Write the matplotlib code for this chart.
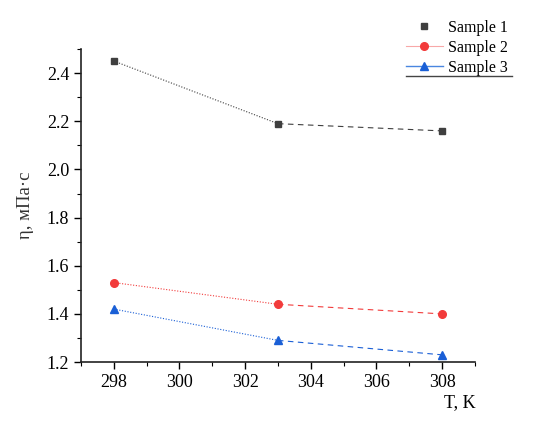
import matplotlib
matplotlib.use("Agg")
import matplotlib.pyplot as plt
from matplotlib.lines import Line2D
from matplotlib.ticker import MultipleLocator

plt.rcParams['font.family'] = ['Liberation Serif', 'DejaVu Serif']

T = [298, 303, 308]
sample1 = [2.45, 2.19, 2.16]
sample2 = [1.53, 1.44, 1.40]
sample3 = [1.42, 1.29, 1.23]
labels = ["Sample 1", "Sample 2", "Sample 3"]

c1, c2, c3 = "#3f3f3f", "#f23b3b", "#1a5fd6"

fig = plt.figure(figsize=(5.41, 4.30), dpi=100)
ax = fig.add_axes([0.1497, 0.158, 0.728, 0.728])

for ys, c, m, ms in [(sample1, c1, 's', 5), (sample2, c2, 'o', 5.5), (sample3, c3, '^', 6)]:
    ax.plot(T[:2], ys[:2], color=c, lw=0.8, ls=(0, (1, 1.5)))
    ax.plot(T[1:], ys[1:], color=c, lw=0.8, ls=(0, (5, 4)))
    ax.plot(T, ys, ls='none', marker=m, color=c, ms=ms)

ax.set_xlim(297, 309)
ax.set_ylim(1.2, 2.5)
ax.xaxis.set_major_locator(MultipleLocator(2))
ax.xaxis.set_minor_locator(MultipleLocator(1))
ax.yaxis.set_major_locator(MultipleLocator(0.2))
ax.yaxis.set_minor_locator(MultipleLocator(0.1))
ax.yaxis.set_major_formatter(matplotlib.ticker.FormatStrFormatter('%.1f'))
ax.set_xticks([298, 300, 302, 304, 306, 308])
for s in ['top', 'right']:
    ax.spines[s].set_visible(False)
for s in ['left', 'bottom']:
    ax.spines[s].set_linewidth(1.2)
    ax.spines[s].set_color('#222222')
ax.tick_params(which='major', direction='out', length=5, width=1.0, labelsize=13)
ax.tick_params(which='minor', direction='out', length=3, width=0.8)

ax.set_ylabel("η, мПа·с", fontsize=13.5, color='#333333',
              family=['Liberation Serif', 'DejaVu Sans'], labelpad=9)
fig.text(476/541, 1 - 403/430, "T, K", fontsize=13, ha='right', va='center')

handles = [
    Line2D([], [], color=c1, marker='s', ls='none', ms=5),
    Line2D([], [], color='#f8a8a8', marker='o', mfc=c2, mec=c2, lw=0.8, ms=5.5),
    Line2D([], [], color='#4a86e0', marker='^', mfc=c3, mec=c3, lw=1.0, ms=6),
]
leg = ax.legend(handles, labels, loc='upper left',
                bbox_to_anchor=(406/541, 1 - 20/430), bbox_transform=fig.transFigure,
                frameon=False, fontsize=11.5, handlelength=2.3, labelspacing=0.25,
                handletextpad=0.35, borderpad=0, borderaxespad=0)
fig.add_artist(Line2D([406/541, 512/541], [1 - 76/430, 1 - 76/430],
                      color='#444444', lw=1.0, transform=fig.transFigure))

fig.savefig("out.png", dpi=100)
